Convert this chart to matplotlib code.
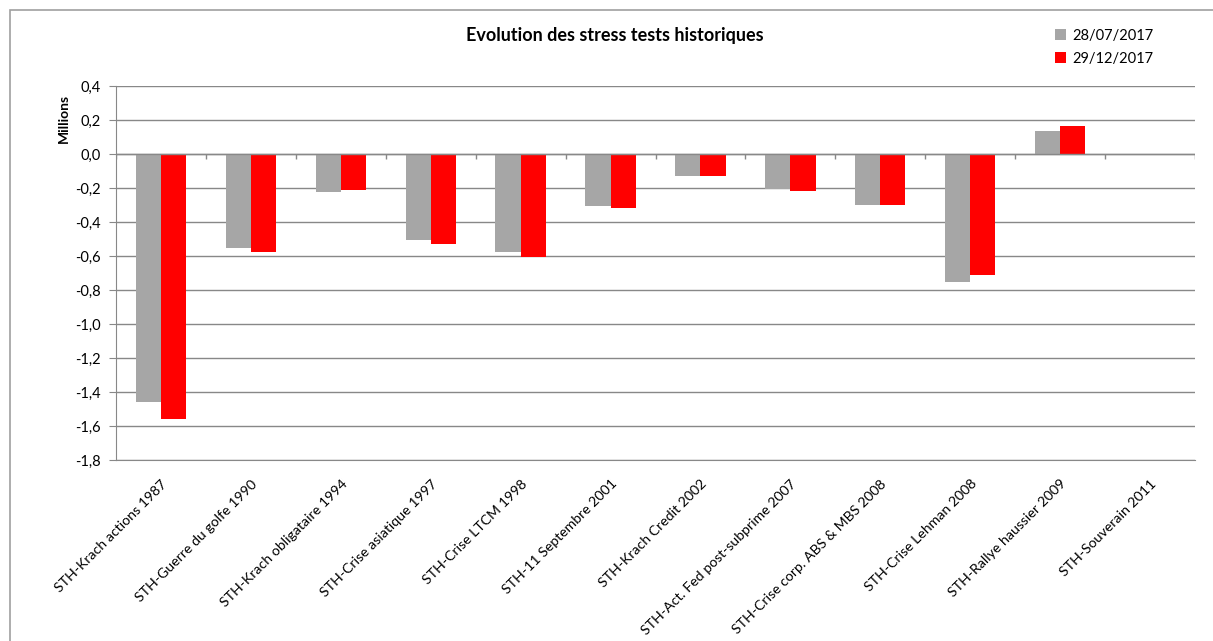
import numpy as np
import matplotlib.pyplot as plt
import matplotlib.transforms as mtransforms
from matplotlib.patches import Rectangle
from matplotlib.ticker import FuncFormatter

plt.rcParams['font.family'] = ['Lato', 'DejaVu Sans']

# Stress test scenarios and results (millions)
scenarios = [
    'STH-Krach actions 1987', 'STH-Guerre du golfe 1990', 'STH-Krach obligataire 1994',
    'STH-Crise asiatique 1997', 'STH-Crise LTCM 1998', 'STH-11 Septembre 2001',
    'STH-Krach Credit 2002', 'STH-Act. Fed post-subprime 2007', 'STH-Crise corp. ABS & MBS 2008',
    'STH-Crise Lehman 2008', 'STH-Rallye haussier 2009', 'STH-Souverain 2011',
]
juillet = [-1.46, -0.555, -0.222, -0.504, -0.576, -0.305, -0.127, -0.206, -0.298, -0.753, 0.134, 0.0]
decembre = [-1.556, -0.576, -0.214, -0.528, -0.604, -0.32, -0.127, -0.22, -0.298, -0.71, 0.163, -0.003]
series_labels = ['28/07/2017', '29/12/2017']
y_ticks = np.arange(-1.8, 0.41, 0.2)

grey = '#A6A6A6'
red = '#FF0000'
line_col = '#888888'

fig = plt.figure(figsize=(12.13, 6.41), dpi=100)
fig.patch.set_facecolor('white')

# chart frame
fig.patches.append(Rectangle((10 / 1213, -0.05), 1.2, 1 - 10 / 641 + 0.05,
                             transform=fig.transFigure, fill=False,
                             edgecolor='#A0A0A0', linewidth=1.2))

ax = fig.add_axes([116 / 1213, 1 - 460 / 641, (1195 - 116) / 1213, (460 - 86) / 641])

x = np.arange(len(scenarios))
w = 0.28
ax.bar(x - w / 2, juillet, w, color=grey, label=series_labels[0], zorder=3)
ax.bar(x + w / 2, decembre, w, color=red, label=series_labels[1], zorder=3)

ax.set_xlim(-0.5, len(scenarios) - 0.5)
ax.set_ylim(-1.8, 0.4)
ax.set_yticks(y_ticks)
ax.yaxis.set_major_formatter(FuncFormatter(lambda v, p: f'{v:.1f}'.replace('.', ',').replace('-0,0', '0,0')))
ax.grid(axis='y', color=line_col, linewidth=1, zorder=0)

# category axis sits on zero, with boundary ticks
ax.axhline(0, color=line_col, linewidth=1, zorder=4)
bounds = np.arange(len(scenarios) + 1) - 0.5
ax.vlines(bounds, 0, -0.03, color=line_col, linewidth=1, zorder=4)

for s in ['top', 'right']:
    ax.spines[s].set_visible(False)
ax.spines['bottom'].set_color(line_col)
ax.spines['left'].set_color(line_col)

ax.tick_params(axis='y', length=5, color=line_col, labelsize=10.5, pad=6)
ax.set_xticks(x)
ax.set_xticklabels(scenarios, rotation=45, ha='right', rotation_mode='anchor', fontsize=10.2)
ax.tick_params(axis='x', length=0, pad=12)
shift = mtransforms.ScaledTranslation(0, -1 / 100, fig.dpi_scale_trans)
for lbl in ax.get_xticklabels():
    lbl.set_transform(lbl.get_transform() + shift)

fig.text(64 / 1213, 1 - 118 / 641, 'Millions', rotation=90, ha='center', va='center',
         fontsize=10, fontweight='bold')
fig.text(615 / 1213, 1 - 35 / 641, 'Evolution des stress tests historiques', ha='center',
         va='center', fontsize=13, fontweight='bold')

fig.legend(loc='upper left', bbox_to_anchor=(1049 / 1213, 1 - 23 / 641), frameon=False,
           fontsize=10.5, handlelength=0.75, handleheight=0.75, handletextpad=0.45,
           labelspacing=0.6, borderaxespad=0)

fig.savefig('out.png', dpi=100)
